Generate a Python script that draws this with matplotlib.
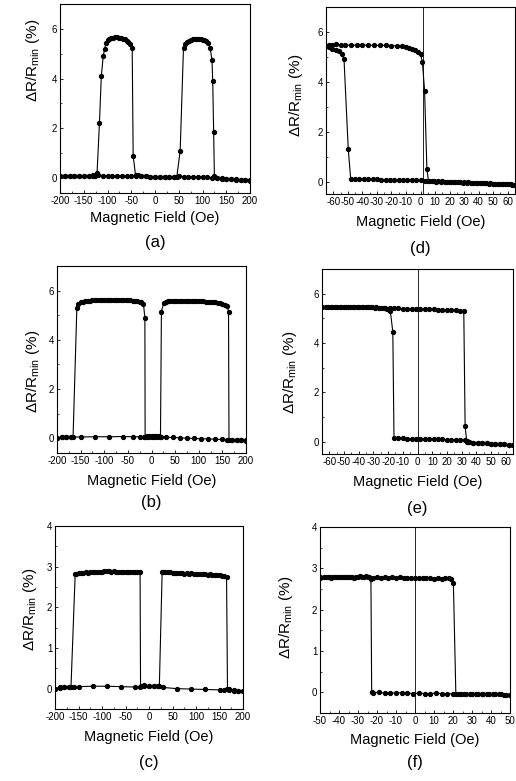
import matplotlib
matplotlib.use("Agg")
import matplotlib.pyplot as plt
from matplotlib.ticker import AutoMinorLocator

plt.rcParams['font.family'] = ['Liberation Sans', 'DejaVu Sans']
plt.rcParams['mathtext.fontset'] = 'custom'
plt.rcParams['mathtext.rm'] = 'Liberation Sans'
plt.rcParams['axes.unicode_minus'] = False

# ---- panel (a) ----
a_down_h = [200, 190, 180, 170, 160, 150, 140, 130, 120, 110, 100, 90, 80, 70, 60, 50, 40, 30, 20, 10,
            0, -10, -20, -30, -36, -41, -46, -48, -52, -56, -60, -64, -68, -72, -76, -80, -84, -88, -92, -96,
            -100, -103, -106, -109, -113, -117, -122, -126, -130, -140, -150, -160, -170, -180, -190, -200]
a_down_r = [-0.08, -0.07, -0.06, -0.05, -0.04, -0.02, -0.01, 0.0, 0.02, 0.03, 0.04, 0.05, 0.05, 0.06, 0.06, 0.07, 0.06, 0.05, 0.04, 0.04,
            0.05, 0.06, 0.07, 0.09, 0.12, 0.12, 0.9, 5.25, 5.38, 5.47, 5.53, 5.58, 5.61, 5.64, 5.65, 5.66, 5.66, 5.65, 5.63, 5.6,
            5.55, 5.45, 5.2, 4.9, 4.1, 2.2, 0.2, 0.1, 0.08, 0.07, 0.07, 0.08, 0.08, 0.09, 0.09, 0.1]
a_up_h = [-200, -190, -180, -170, -160, -150, -140, -130, -120, -110, -100, -90, -80, -70, -60, -50, -40, -30, -20, -10,
          0, 10, 20, 30, 40, 46, 53, 60, 64, 68, 72, 76, 80, 84, 88, 92, 96, 100, 104, 108,
          112, 116, 120, 121.5, 123.5, 125, 130, 140, 150, 160, 170, 180, 190, 200]
a_up_r = [0.1, 0.1, 0.09, 0.09, 0.1, 0.1, 0.1, 0.11, 0.12, 0.1, 0.09, 0.09, 0.08, 0.08, 0.09, 0.1, 0.1, 0.08, 0.07, 0.06,
          0.05, 0.04, 0.04, 0.05, 0.05, 0.06, 1.1, 5.25, 5.38, 5.46, 5.52, 5.56, 5.59, 5.6, 5.61, 5.6, 5.59, 5.57, 5.54, 5.5,
          5.42, 5.25, 4.75, 3.9, 1.85, 0.1, 0.02, -0.02, -0.04, -0.05, -0.06, -0.07, -0.08, -0.1]

# ---- panel (b) ----
b_down_h = [200, 190, 180, 170, 160, 150, 135, 120, 105, 90, 75, 60, 45, 30, 20, 12, 6, 0, -6, -10,
            -13.5, -14, -17, -22, -25, -30, -35, -40, -45, -50, -55, -60, -65, -70, -75, -80, -85, -90, -95, -100,
            -105, -110, -115, -120, -125, -130, -135, -140, -145, -150, -155, -158, -166, -170, -180, -190, -200]
b_down_r = [-0.1, -0.09, -0.08, -0.07, -0.06, -0.05, -0.04, -0.03, -0.02, -0.01, 0.0, 0.02, 0.03, 0.04, 0.05, 0.05, 0.06, 0.06, 0.06, 0.07,
            0.07, 4.9, 5.45, 5.52, 5.55, 5.57, 5.58, 5.59, 5.6, 5.6, 5.61, 5.61, 5.62, 5.62, 5.62, 5.62, 5.62, 5.62, 5.62, 5.62,
            5.61, 5.61, 5.6, 5.6, 5.6, 5.59, 5.58, 5.57, 5.55, 5.52, 5.45, 5.3, 0.05, 0.05, 0.04, 0.03, 0.02]
b_up_h = [-200, -190, -180, -170, -150, -120, -90, -60, -40, -25, -15, -10, -5, 0, 5, 10, 15, 19, 21, 26,
          30, 35, 40, 45, 50, 55, 60, 65, 70, 75, 80, 85, 90, 95, 100, 105, 110, 115, 120, 125,
          130, 135, 140, 145, 150, 155, 160, 163, 164, 170, 180, 190, 200]
b_up_r = [0.02, 0.03, 0.04, 0.05, 0.05, 0.06, 0.06, 0.07, 0.06, 0.06, 0.07, 0.08, 0.08, 0.08, 0.08, 0.08, 0.08, 0.07, 5.15, 5.5,
          5.54, 5.56, 5.57, 5.58, 5.58, 5.58, 5.58, 5.58, 5.58, 5.58, 5.58, 5.58, 5.57, 5.57, 5.57, 5.56, 5.56, 5.55, 5.55, 5.54,
          5.53, 5.52, 5.5, 5.48, 5.46, 5.43, 5.38, 5.15, -0.06, -0.07, -0.08, -0.08, -0.09]

# ---- panel (c) ----
c_down_h = [200, 190, 180, 170, 160, 150, 120, 90, 60, 30, 20, 10, 0, -10, -18, -19, -25, -30, -35, -40,
            -45, -50, -55, -60, -65, -70, -75, -80, -85, -90, -95, -100, -105, -110, -115, -120, -125, -130, -135, -140,
            -145, -150, -155, -157, -166, -170, -180, -190, -200]
c_down_r = [-0.06, -0.05, -0.05, -0.04, -0.04, -0.03, -0.02, -0.01, 0.0, 0.03, 0.06, 0.07, 0.07, 0.08, 0.07, 2.87, 2.86, 2.87, 2.86, 2.87,
            2.88, 2.87, 2.86, 2.88, 2.87, 2.88, 2.89, 2.88, 2.89, 2.9, 2.89, 2.88, 2.88, 2.87, 2.88, 2.86, 2.86, 2.85, 2.86, 2.85,
            2.84, 2.85, 2.83, 2.83, 0.04, 0.05, 0.04, 0.03, 0.0]
c_up_h = [-200, -190, -180, -170, -160, -150, -120, -90, -60, -30, -20, -10, 0, 10, 20, 22, 28, 30, 35, 40,
          45, 50, 55, 60, 65, 70, 75, 80, 85, 90, 95, 100, 105, 110, 115, 120, 125, 130, 135, 140,
          145, 150, 155, 160, 165, 167, 170, 180, 190, 200]
c_up_r = [0.0, 0.02, 0.04, 0.04, 0.03, 0.05, 0.06, 0.06, 0.05, 0.04, 0.05, 0.06, 0.07, 0.07, 0.06, 0.06, 2.88, 2.88, 2.87, 2.86,
          2.86, 2.85, 2.84, 2.85, 2.84, 2.84, 2.83, 2.84, 2.83, 2.84, 2.82, 2.83, 2.82, 2.82, 2.81, 2.82, 2.8, 2.81, 2.8, 2.8,
          2.79, 2.79, 2.78, 2.77, 2.75, 0.0, -0.02, -0.04, -0.05, -0.06]

# ---- panel (d) ----
d_down_h = [65, 62, 59, 56, 53, 50, 47, 44, 41, 38, 35, 32, 29, 26, 23, 20, 17, 14, 11, 8,
            5.5, 4.4, 2.8, 1.3, 0, -2, -4, -6, -8, -10, -13, -16, -20, -24, -28, -32, -36, -40, -44, -48,
            -52, -55, -58, -61, -63, -65]
d_down_r = [-0.12, -0.11, -0.1, -0.1, -0.09, -0.08, -0.08, -0.07, -0.06, -0.06, -0.05, -0.04, -0.04, -0.03, -0.02, -0.02, -0.01, 0.0, 0.0, 0.01,
            0.02, 0.5, 3.65, 4.8, 5.1, 5.2, 5.27, 5.32, 5.36, 5.39, 5.42, 5.44, 5.45, 5.46, 5.46, 5.46, 5.47, 5.47, 5.47, 5.47,
            5.47, 5.48, 5.5, 5.48, 5.46, 5.42]
d_up_h = [-65, -63, -61, -58, -56, -54, -52.6, -49.7, -48, -45, -42, -39, -36, -33, -30, -27, -24, -21, -18, -15,
          -12, -9, -6, -3, 0, 3, 6, 9, 12, 15, 18, 21, 24, 27, 30, 33, 36, 39, 42, 45,
          48, 51, 54, 57, 60, 63, 65]
d_up_r = [5.45, 5.4, 5.33, 5.28, 5.25, 5.1, 4.9, 1.3, 0.1, 0.1, 0.1, 0.1, 0.09, 0.09, 0.09, 0.08, 0.08, 0.08, 0.07, 0.07,
          0.07, 0.06, 0.06, 0.05, 0.05, 0.04, 0.03, 0.02, 0.02, 0.01, 0.0, 0.0, -0.01, -0.02, -0.03, -0.03, -0.04, -0.05, -0.05, -0.06,
          -0.07, -0.08, -0.09, -0.1, -0.11, -0.12, -0.13]

# ---- panel (e) ----
e_up_h = [-65, -62, -59, -56, -53, -50, -47, -44, -41, -38, -35, -32, -29, -26, -23, -20.5, -18.5, -16.8, -16, -13,
          -10, -7, -4, -1, 2, 5, 8, 11, 14, 17, 20, 23, 26, 29, 32, 33.5, 35, 38, 41, 44,
          47, 50, 53, 56, 59, 62, 65]
e_up_r = [5.45, 5.45, 5.45, 5.45, 5.45, 5.45, 5.45, 5.45, 5.46, 5.46, 5.45, 5.44, 5.43, 5.42, 5.4, 5.38, 5.3, 4.45, 0.15, 0.14,
          0.13, 0.12, 0.12, 0.11, 0.11, 0.1, 0.1, 0.1, 0.09, 0.09, 0.08, 0.08, 0.07, 0.07, 0.06, 0.03, -0.02, -0.04, -0.05, -0.06,
          -0.07, -0.08, -0.09, -0.1, -0.11, -0.12, -0.13]
e_down_h = [65, 62, 59, 56, 53, 50, 47, 44, 41, 38, 35, 33.5, 32.4, 31.5, 29, 26, 23, 20, 17, 14,
            11, 8, 5, 2, -1, -4, -7, -10, -13, -16, -19, -22, -25, -28, -31, -34, -37, -40, -43, -46,
            -49, -52, -55, -58, -61, -65]
e_down_r = [-0.13, -0.12, -0.11, -0.1, -0.09, -0.08, -0.07, -0.06, -0.05, -0.04, -0.03, -0.01, 0.65, 5.3, 5.31, 5.32, 5.33, 5.34, 5.35, 5.35,
            5.36, 5.36, 5.37, 5.37, 5.38, 5.38, 5.39, 5.39, 5.4, 5.4, 5.41, 5.42, 5.43, 5.44, 5.45, 5.45, 5.46, 5.46, 5.46, 5.46,
            5.45, 5.45, 5.45, 5.45, 5.45, 5.45]

# ---- panel (f) ----
f_up_h = [-50, -48, -46, -44, -42, -40, -38, -36, -34, -32, -30, -28, -26, -24, -22, -20, -18, -16, -14, -12,
          -10, -8, -6, -4, -2, 0, 2, 4, 6, 8, 10, 12, 14, 16, 18, 19, 20.2, 21.5, 24, 27,
          30, 33, 36, 39, 42, 45, 48, 50]
f_up_r = [2.78, 2.79, 2.78, 2.77, 2.79, 2.78, 2.78, 2.79, 2.78, 2.77, 2.79, 2.8, 2.81, 2.79, 2.77, 2.78, 2.77, 2.78, 2.77, 2.78,
          2.77, 2.78, 2.77, 2.76, 2.77, 2.76, 2.77, 2.76, 2.77, 2.76, 2.75, 2.76, 2.75, 2.76, 2.76, 2.75, 2.65, -0.04, -0.04, -0.05,
          -0.04, -0.05, -0.04, -0.05, -0.05, -0.05, -0.06, -0.06]
f_down_h = [50, 47, 44, 41, 38, 35, 32, 29, 26, 23, 20, 17, 14, 11, 8, 5, 2, -1, -4, -7,
            -10, -13, -16, -19, -22, -22.8, -23.2, -25, -27, -29, -31, -33, -35, -37, -39, -41, -43, -45, -47, -50]
f_down_r = [-0.06, -0.06, -0.05, -0.05, -0.04, -0.05, -0.04, -0.04, -0.03, -0.04, -0.03, -0.04, -0.03, -0.02, -0.03, -0.03, -0.02, -0.03, -0.02, -0.01,
            -0.02, -0.01, -0.02, 0.0, -0.01, 0.0, 2.75, 2.78, 2.8, 2.82, 2.8, 2.79, 2.78, 2.79, 2.78, 2.78, 2.79, 2.78, 2.78, 2.77]

W, H = 516, 781

def frac(x, y):
    return x / W, 1 - y / H

# name, branches, axes box in pixels (left, top, right, bottom), xlim, ylim, xticks, yticks,
# vline, ylabel centre (px), xlabel y (px), letter y (px)
panels = [
    ('(a)', [(a_down_h, a_down_r), (a_up_h, a_up_r)], (60, 4, 250, 193), (-200, 200), (-0.6, 7),
     range(-200, 201, 50), [0, 2, 4, 6], None, (33, 60), 218, 243),
    ('(b)', [(b_down_h, b_down_r), (b_up_h, b_up_r)], (57, 266, 246, 453), (-200, 200), (-0.6, 7),
     range(-200, 201, 50), [0, 2, 4, 6], None, (33, 371), 481, 502),
    ('(c)', [(c_down_h, c_down_r), (c_up_h, c_up_r)], (55, 526, 243, 709), (-200, 200), (-0.5, 4),
     range(-200, 201, 50), [0, 1, 2, 3, 4], None, (30, 609), 737, 762),
    ('(d)', [(d_down_h, d_down_r), (d_up_h, d_up_r)], (326, 7, 515, 194), (-65, 65), (-0.5, 7),
     range(-60, 61, 10), [0, 2, 4, 6], 1.5, (296, 95), 222, 248),
    ('(e)', [(e_down_h, e_down_r), (e_up_h, e_up_r)], (322, 269, 513, 454), (-65, 65), (-0.5, 7),
     range(-60, 61, 10), [0, 2, 4, 6], 0, (290, 372), 482, 508),
    ('(f)', [(f_down_h, f_down_r), (f_up_h, f_up_r)], (320, 527, 510, 713), (-50, 50), (-0.5, 4),
     range(-50, 51, 10), [0, 1, 2, 3, 4], 0, (286, 617), 740, 762),
]

fig = plt.figure(figsize=(W / 100, H / 100), dpi=100)

for name, branches, box, xlim, ylim, xt, yt, vline, ylab, xlab_y, let_y in panels:
    l, t, r, b = box
    ax = fig.add_axes([l / W, 1 - b / H, (r - l) / W, (b - t) / H])
    for h, v in branches:
        ax.plot(h, v, color='black', lw=0.8, marker='o', ms=2.8, mec='black', mfc='black')
    if vline is not None:
        ax.axvline(vline, color='black', lw=0.6)
    ax.set_xlim(*xlim)
    ax.set_ylim(*ylim)
    ax.set_xticks(list(xt))
    ax.set_yticks(yt)
    ax.xaxis.set_minor_locator(AutoMinorLocator(2))
    ax.yaxis.set_minor_locator(AutoMinorLocator(2))
    ax.tick_params(which='major', direction='in', length=2.5, width=0.6, labelsize=7, pad=2)
    ax.tick_params(which='minor', direction='in', length=1.5, width=0.5)
    for s in ax.spines.values():
        s.set_linewidth(0.8)
    cx = (l + r) / 2
    fig.text(*frac(ylab[0], ylab[1]), r'$\Delta$R/R$_{\rm min}$ (%)', rotation=90,
             ha='center', va='center', fontsize=11)
    fig.text(*frac(cx, xlab_y), 'Magnetic Field (Oe)', ha='center', va='center', fontsize=10.5)
    fig.text(*frac(cx, let_y), name, ha='center', va='center', fontsize=12)

fig.savefig('out.png', dpi=100)
